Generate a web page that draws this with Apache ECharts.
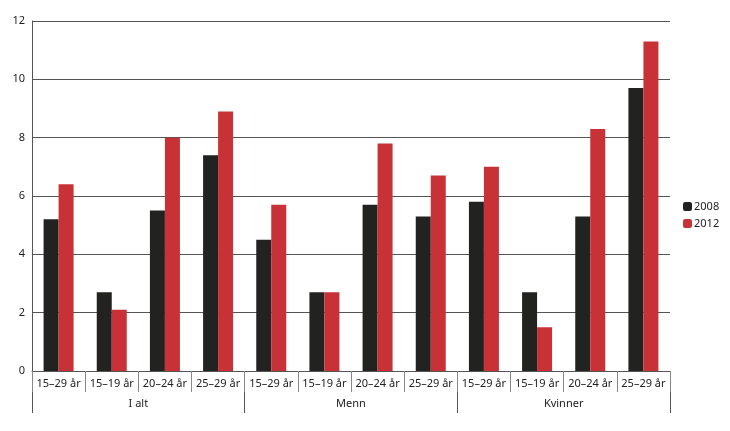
<!DOCTYPE html>
<html><head><meta charset="utf-8">
<script src="https://cdn.jsdelivr.net/npm/echarts@6/dist/echarts.min.js"></script>
<style>html,body{margin:0;padding:0;background:#fff}#c{width:730px;height:431px}</style>
</head><body><div id="c"></div>
<script>
const categories = ['15–29 år','15–19 år','20–24 år','25–29 år','15–29 år','15–19 år','20–24 år','25–29 år','15–29 år','15–19 år','20–24 år','25–29 år'];
const groups = ['I alt','Menn','Kvinner'];
const s2008 = [5.2,2.7,5.5,7.4, 4.5,2.7,5.7,5.3, 5.8,2.7,5.3,9.7];
const s2012 = [6.4,2.1,8.0,8.9, 5.7,2.7,7.8,6.7, 7.0,1.5,8.3,11.3];
const yTicks = [0,2,4,6,8,10,12];

const font = 'Noto Sans';
const chart = echarts.init(document.getElementById('c'));
chart.setOption({
  animation:false,
  textStyle:{fontFamily:font},
  grid:{left:32,right:60,top:21,bottom:60},
  legend:{
    orient:'vertical', left:678, top:196, itemWidth:9, itemHeight:9, itemGap:6,
    textStyle:{fontSize:11,color:'#222',fontFamily:font, padding:[0,0,0,-3]},
    data:['2008','2012']
  },
  xAxis:[{
    type:'category', data:categories, position:'bottom',
    axisLine:{show:true,lineStyle:{color:'#555',width:1}},
    axisTick:{show:true,interval:0,length:21,lineStyle:{color:'#888'}},
    axisLabel:{interval:0,color:'#222',fontSize:11,margin:7,fontFamily:font}
  },{
    type:'category', data:groups, position:'bottom', offset:21,
    axisLine:{show:false},
    axisTick:{show:true,interval:0,length:21,lineStyle:{color:'#555'}},
    axisLabel:{interval:0,color:'#222',fontSize:11,margin:6,fontFamily:font}
  }],
  yAxis:{
    type:'value', min:yTicks[0], max:yTicks[yTicks.length-1], interval:2,
    axisLine:{show:true,lineStyle:{color:'#555'}},
    axisTick:{show:false},
    axisLabel:{color:'#222',fontSize:11,margin:7,fontFamily:font},
    splitLine:{lineStyle:{color:'#555',width:1}}
  },
  series:[
    {name:'2008',type:'bar',data:s2008,barWidth:15,barGap:'0%',itemStyle:{color:'#222220'}},
    {name:'2012',type:'bar',data:s2012,barWidth:15,barGap:'0%',itemStyle:{color:'#c83236'}}
  ]
});
</script></body></html>
